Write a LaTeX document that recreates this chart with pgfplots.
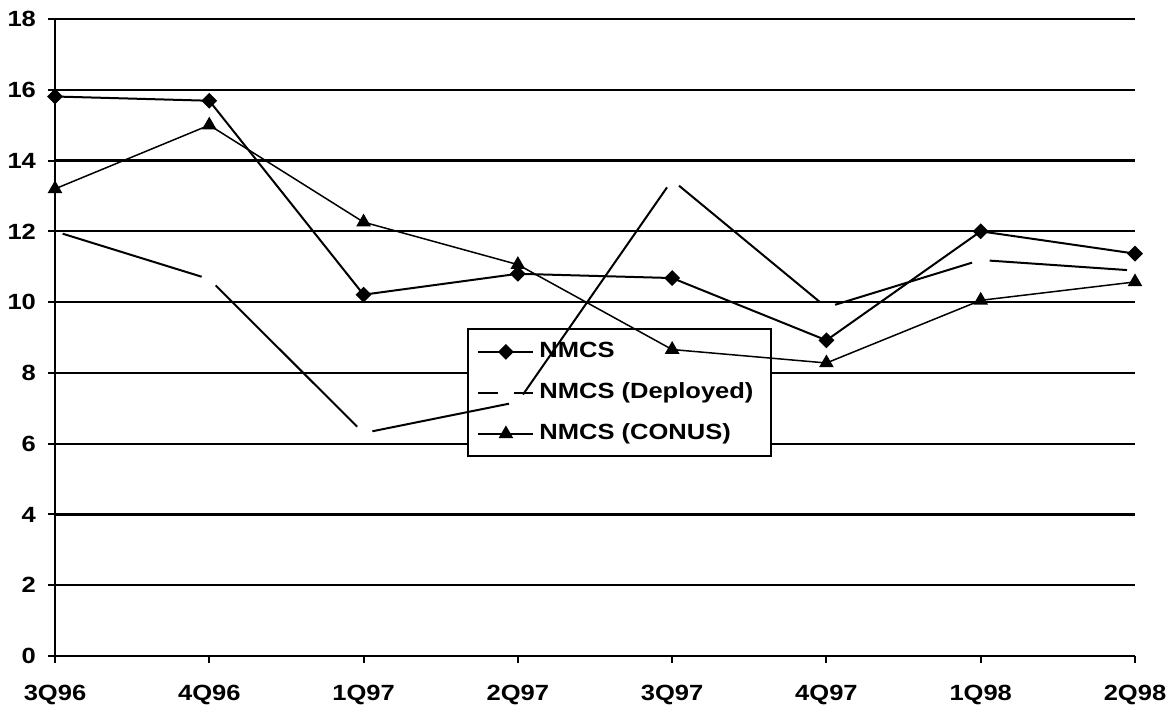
\documentclass[border=0pt]{standalone}
\usepackage{pgfplots}
\pgfplotsset{compat=1.18}
\usepackage{fontspec}
\setmainfont[FakeStretch=1.16]{Liberation Sans}
\begin{document}
\begin{tikzpicture}
\begin{axis}[
  at={(0,0)}, anchor=south west,
  scale only axis,
  width=540pt, height=318.5pt,
  xmin=0, xmax=7, ymin=0, ymax=18,
  xtick={0,...,7},
  xticklabels={3Q96,4Q96,1Q97,2Q97,3Q97,4Q97,1Q98,2Q98},
  ytick={0,2,...,18},
  axis x line=bottom, axis y line=left,
  axis line style={black, line width=1.2pt, -},
  ymajorgrids, grid style={black, line width=1.1pt},
  tick align=outside, major tick length=3.5pt,
  tick style={black, line width=1pt},
  ticklabel style={font=\fontsize{11}{13}\selectfont\bfseries},
  /pgf/number format/assume math mode=true,
  yticklabel style={xshift=-2.5pt},
  xticklabel style={yshift=-7.5pt},
  legend style={at={(axis cs:2.677,9.24)}, anchor=north west, draw=none, fill=none,
    inner xsep=4.5pt, inner ysep=6pt, row sep=10pt, column sep=2.5pt,
    font=\fontsize{11}{13}\selectfont\bfseries,
    nodes={inner sep=0pt, text height=8pt, text depth=2.5pt}},
  legend cell align=left,
  legend image code/.code={\draw[mark repeat=2,mark phase=2,#1] plot coordinates {(0pt,0pt) (13.75pt,0pt) (27.5pt,0pt)};},
]
\draw[fill=white, line width=1.2pt] (axis cs:2.677,9.24) rectangle (axis cs:4.641,5.65);

\addplot[black, line width=1pt, mark=square*, mark size=2.3pt, mark options={rotate=45, solid, fill=black}]
  coordinates {(0,15.81) (1,15.69) (2,10.21) (3,10.80) (4,10.68) (5,8.92) (6,12.00) (7,11.37)};
\addlegendentry{NMCS}

\addlegendimage{black, line width=1pt, dash pattern=on 10pt off 8pt}
\addlegendentry{NMCS (Deployed)}

\addplot[black, line width=0.75pt, mark=triangle*, mark size=3.5pt, mark options={solid, fill=black}]
  coordinates {(0,13.2) (1,15.0) (2,12.26) (3,11.06) (4,8.66) (5,8.28) (6,10.05) (7,10.57)};
\addlegendentry{NMCS (CONUS)}

% NMCS (Deployed): 12.00, 10.65, 6.30, 7.18, 13.45, 9.85, 11.19, 10.89
\addplot[black, line width=1pt, shorten <=4pt, shorten >=4pt, forget plot] coordinates {(0,12.00) (1,10.65)};
\addplot[black, line width=1pt, shorten <=4.5pt, shorten >=4.5pt, forget plot] coordinates {(1,10.65) (2,6.30)};
\addplot[black, line width=1pt, shorten <=4.5pt, shorten >=4.5pt, forget plot] coordinates {(2,6.30) (3,7.18)};
\addplot[black, line width=1pt, shorten <=4.5pt, shorten >=4.5pt, forget plot] coordinates {(3,7.18) (4,13.45)};
\addplot[black, line width=1pt, shorten <=4.5pt, shorten >=4.5pt, forget plot] coordinates {(4,13.45) (5,9.85)};
\addplot[black, line width=1pt, shorten <=4.5pt, shorten >=4.5pt, forget plot] coordinates {(5,9.85) (6,11.19)};
\addplot[black, line width=1pt, shorten <=4.5pt, shorten >=4pt, forget plot] coordinates {(6,11.19) (7,10.89)};
\end{axis}
\pgfresetboundingbox
\useasboundingbox (-27.5pt,-28pt) rectangle (559pt,328pt);
\end{tikzpicture}
\end{document}
